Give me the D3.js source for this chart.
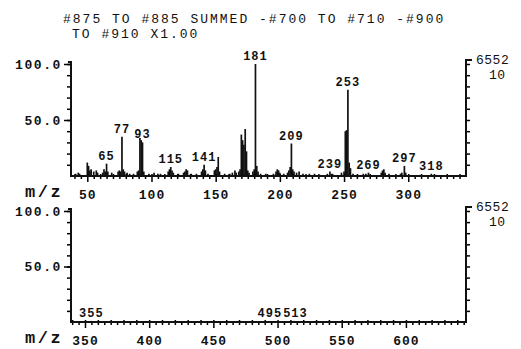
<!DOCTYPE html>
<html>
<head>
<meta charset="utf-8">
<script src="https://cdn.jsdelivr.net/npm/d3@7/dist/d3.min.js"></script>
<style>
  body { margin: 0; background: #fff; }
  text { font-family: "Liberation Mono", "DejaVu Sans Mono", monospace; fill: #111; font-weight: bold; }
</style>
</head>
<body>
<svg id="chart" width="521" height="349"></svg>
<script>
// header printed by the data system
const titleLines = ['#875 TO #885 SUMMED -#700 TO #710 -#900', 'TO #910 X1.00'];

// upper scan, m/z 37-345 (relative intensity, %)
const topMz = [41, 43, 44, 50, 51, 52, 53, 55, 57, 58, 62, 63, 64, 65, 66, 69, 74, 75, 76, 77, 78, 79, 81, 83, 86,
  89, 90, 91, 92, 93, 94, 98, 102, 105, 107, 113, 114, 115, 116, 117, 121, 125, 126, 127, 128, 131, 135, 139, 140,
  141, 142, 144, 149, 150, 151, 152, 153, 157, 161, 163, 165, 166, 168, 169, 170, 171, 172, 173, 174, 175, 176, 179,
  180, 181, 182, 183, 185, 189, 195, 197, 198, 199, 200, 203, 206, 207, 208, 209, 210, 211, 213, 215, 218, 223, 227,
  231, 237, 239, 241, 248, 250, 251, 252, 253, 254, 255, 257, 261, 265, 267, 269, 279, 280, 281, 282, 285, 289, 294,
  295, 297, 298, 303, 309, 318, 322];
const topInt = [2, 3, 2, 12, 9, 5, 6, 4, 5, 3, 3, 6, 4, 11, 4, 3, 4, 5, 4, 35, 6, 4, 3, 2, 2,
  4, 5, 34, 32, 30, 4, 2, 3, 2, 2, 4, 6, 8, 5, 3, 2, 3, 4, 6, 5, 2, 2, 4, 6,
  10, 5, 2, 5, 6, 8, 17, 4, 2, 2, 3, 5, 3, 4, 6, 37, 32, 28, 42, 22, 5, 3, 4,
  6, 100, 9, 4, 2, 2, 2, 4, 6, 5, 3, 2, 3, 5, 8, 29, 6, 4, 3, 4, 2, 2, 2,
  1, 2, 4, 2, 3, 4, 40, 41, 77, 12, 7, 2, 1, 2, 2, 3, 3, 5, 6, 3, 2, 1, 2,
  3, 9, 3, 1, 1, 2, 1];
const topLabels = [65, 77, 93, 115, 141, 181, 209, 239, 253, 269, 297, 318];

// lower scan, m/z 339-646
const bottomMz = [355, 495, 513];
const bottomInt = [1, 1, 1];
const bottomLabels = [355, 495, 513];

const yTickValues = [50, 100];
const yTickLabels = ['50.0', '100.0'];
const topXTicks = [50, 100, 150, 200, 250, 300];
const bottomXTicks = [350, 400, 450, 500, 550, 600];
const rightLabels = ['6552', '10'];

const svg = d3.select('#chart');

svg.selectAll('.title')
  .data(titleLines)
  .enter()
  .append('text')
  .attr('class', 'title')
  .attr('x', (d, i) => i === 0 ? 63 : 72)
  .attr('y', (d, i) => 23 + i * 15)
  .attr('font-size', '13px')
  .attr('letter-spacing', '2px')
  .style('font-weight', 'normal')
  .text(d => d);

function drawPanel(cfg) {
  const x = d3.scaleLinear().domain(cfg.domain).range([71, 466]);
  const y = d3.scaleLinear().domain([0, 100]).range([cfg.base, cfg.top]);
  const g = svg.append('g');

  // peaks
  g.selectAll('.peak')
    .data(cfg.mz.map((m, i) => ({ mz: m, v: cfg.int[i] })))
    .enter()
    .append('line')
    .attr('class', 'peak')
    .attr('x1', d => x(d.mz))
    .attr('x2', d => x(d.mz))
    .attr('y1', y(0))
    .attr('y2', d => y(d.v))
    .attr('stroke', '#111')
    .attr('stroke-width', 1.7);

  // x axis: minor ticks every 5, longer every 10
  const lo = Math.ceil(cfg.domain[0] / 5) * 5;
  const minor = d3.range(lo, cfg.domain[1], 5);
  g.append('g')
    .attr('transform', `translate(0,${y(0)})`)
    .call(d3.axisBottom(x).tickValues(minor).tickSize(3).tickFormat(''))
    .call(a => a.selectAll('.tick line')
      .attr('y1', d => d % 10 === 0 ? -2 : 0)
      .attr('y2', d => d % 50 === 0 ? 6 : 3)
      .attr('stroke-width', 1.5))
    .call(a => a.select('.domain').remove());

  g.append('g')
    .attr('transform', `translate(0,${y(0)})`)
    .call(d3.axisBottom(x).tickValues(cfg.xTicks).tickSize(0).tickPadding(14))
    .call(a => a.select('.domain').remove())
    .call(a => a.selectAll('text')
      .attr('font-size', '13px')
      .attr('font-family', '"Liberation Mono", monospace')
      .attr('letter-spacing', '1px')
      .attr('fill', '#111'));

  // left axis
  g.append('g')
    .attr('transform', 'translate(71,0)')
    .call(d3.axisLeft(y).tickValues(d3.range(10, 101, 10)).tickSize(4).tickFormat(''))
    .call(a => a.select('.domain').remove())
    .call(a => a.selectAll('.tick line').attr('stroke-width', 1.5));

  g.append('g')
    .attr('transform', 'translate(71,0)')
    .call(d3.axisLeft(y).tickValues(yTickValues).tickSize(7).tickPadding(2)
      .tickFormat((d, i) => yTickLabels[i]))
    .call(a => a.select('.domain').remove())
    .call(a => a.selectAll('.tick line').attr('stroke-width', 1.5))
    .call(a => a.selectAll('text')
      .attr('font-size', '13px')
      .attr('font-family', '"Liberation Mono", monospace')
      .attr('letter-spacing', '1.6px')
      .attr('fill', '#111'));

  // right axis
  g.append('g')
    .attr('transform', 'translate(466,0)')
    .call(d3.axisRight(y).tickValues(d3.range(10, 101, 10)).tickSize(4).tickFormat(''))
    .call(a => a.select('.domain').remove())
    .call(a => a.selectAll('.tick line').attr('stroke-width', 1.5));

  // frame lines
  g.append('path')
    .attr('d', `M68,${y(100) - 2}H71V${y(0)}H466V${y(100) - 4}H472`)
    .attr('fill', 'none')
    .attr('stroke', '#111')
    .attr('stroke-width', 2);

  g.selectAll('.rlab')
    .data(rightLabels)
    .enter()
    .append('text')
    .attr('class', 'rlab')
    .attr('x', (d, i) => i === 0 ? 476 : 489)
    .attr('y', (d, i) => y(100) + i * 15)
    .attr('font-size', '13px')
    .attr('letter-spacing', '0.5px')
    .style('font-weight', 'normal')
    .text(d => d);

  // peak labels, nudged apart when two of them collide (e.g. 495 / 513)
  const labs = g.selectAll('.plab')
    .data(cfg.labels)
    .enter()
    .append('text')
    .attr('class', 'plab')
    .attr('x', d => x(d))
    .attr('y', d => y(cfg.int[cfg.mz.indexOf(d)]) - 4)
    .attr('text-anchor', 'middle')
    .attr('font-size', '12px')
    .attr('letter-spacing', '1px')
    .text(d => d);
  const nodes = labs.nodes();
  for (let i = 1; i < nodes.length; i++) {
    const a = nodes[i - 1].getBBox();
    const b = nodes[i].getBBox();
    const vOverlap = a.y < b.y + b.height && b.y < a.y + a.height;
    const over = a.x + a.width - b.x;
    if (vOverlap && over > -1) {
      const s = (over + 1) / 2;
      nodes[i - 1].setAttribute('x', +nodes[i - 1].getAttribute('x') - s);
      nodes[i].setAttribute('x', +nodes[i].getAttribute('x') + s);
    }
  }

  g.append('text')
    .attr('x', 25)
    .attr('y', y(0) + 21)
    .attr('font-family', '"Liberation Serif", serif')
    .attr('font-size', '17px')
    .attr('letter-spacing', '2.5px')
    .text('m/z');
}

drawPanel({ domain: [37.3, 345], base: 176, top: 64, mz: topMz, int: topInt, labels: topLabels, xTicks: topXTicks });
drawPanel({ domain: [339.1, 646.8], base: 322, top: 211, mz: bottomMz, int: bottomInt, labels: bottomLabels, xTicks: bottomXTicks });
</script>
</body>
</html>
